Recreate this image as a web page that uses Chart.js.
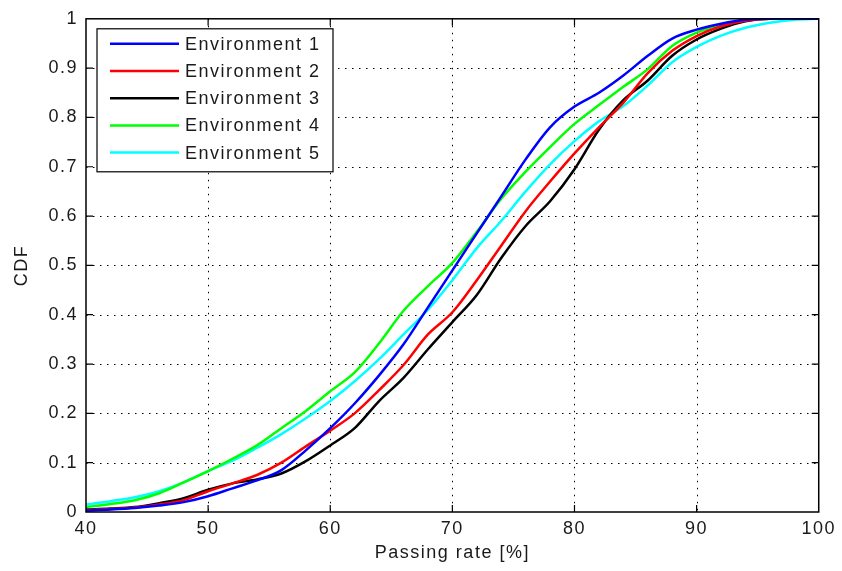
<!DOCTYPE html>
<html>
<head>
<meta charset="utf-8">
<script src="https://cdn.jsdelivr.net/npm/chart.js@4.4.1/dist/chart.umd.min.js"></script>
<style>
  html, body { margin: 0; padding: 0; background: #fff; }
  #wrap { width: 842px; height: 571px; }
</style>
</head>
<body>
<div id="wrap"><canvas id="cdfChart"></canvas></div>
<script>
// ============ DATA ============
const PASSING_RATE = [40, 42, 44, 46, 48, 50, 52, 54, 56, 58, 60, 62, 64, 66, 68, 70,
  72, 74, 76, 78, 80, 82, 84, 86, 88, 90, 92, 94, 96, 98, 100];

const ENV1 = [0.003, 0.005, 0.008, 0.013, 0.02, 0.032, 0.048, 0.064, 0.085, 0.125, 0.17, 0.22, 0.277, 0.34, 0.415, 0.49,
  0.565, 0.64, 0.715, 0.78, 0.822, 0.85, 0.885, 0.925, 0.96, 0.978, 0.99, 0.998, 1, 1, 1];
const ENV2 = [0.004, 0.006, 0.009, 0.015, 0.024, 0.042, 0.058, 0.075, 0.1, 0.133, 0.165, 0.2, 0.247, 0.298, 0.36, 0.405,
  0.47, 0.54, 0.61, 0.67, 0.727, 0.78, 0.83, 0.89, 0.935, 0.965, 0.985, 0.996, 1, 1, 1];
const ENV3 = [0.005, 0.007, 0.01, 0.018, 0.028, 0.045, 0.058, 0.066, 0.078, 0.103, 0.135, 0.17, 0.225, 0.272, 0.33, 0.385,
  0.44, 0.515, 0.58, 0.63, 0.695, 0.775, 0.835, 0.875, 0.925, 0.958, 0.98, 0.995, 1, 1, 1];
const ENV4 = [0.01, 0.016, 0.024, 0.038, 0.06, 0.083, 0.108, 0.135, 0.17, 0.205, 0.245, 0.283, 0.342, 0.408, 0.458, 0.505,
  0.568, 0.635, 0.69, 0.74, 0.787, 0.825, 0.862, 0.898, 0.945, 0.972, 0.988, 0.997, 1, 1, 1];
const ENV5 = [0.015, 0.022, 0.03, 0.042, 0.06, 0.083, 0.104, 0.13, 0.158, 0.19, 0.225, 0.265, 0.31, 0.36, 0.41, 0.47,
  0.535, 0.59, 0.65, 0.705, 0.752, 0.792, 0.823, 0.865, 0.912, 0.943, 0.966, 0.982, 0.992, 0.998, 1];

const SERIES = [ENV1, ENV2, ENV3, ENV4, ENV5];
const SERIES_LABELS = ['Environment 1', 'Environment 2', 'Environment 3', 'Environment 4', 'Environment 5'];
const SERIES_COLORS = ['#0000ff', '#ff0000', '#000000', '#00ff00', '#00ffff'];

const X_TICKS = [40, 50, 60, 70, 80, 90, 100];
const Y_TICKS = [0, 0.1, 0.2, 0.3, 0.4, 0.5, 0.6, 0.7, 0.8, 0.9, 1];

const FONT = "'Liberation Sans', Arial, Helvetica, sans-serif";

// ============ PLUGINS ============
// matlab style text is a bit stretched
const spacing = {
  id: 'spacing',
  beforeUpdate(chart) { chart.ctx.letterSpacing = '1.5px'; },
  beforeDraw(chart) { chart.ctx.letterSpacing = '1.5px'; }
};

// dotted grid under the lines
const dottedGrid = {
  id: 'dottedGrid',
  beforeDatasetsDraw(chart) {
    const { ctx, chartArea: a, scales } = chart;
    ctx.save();
    ctx.strokeStyle = '#000';
    ctx.lineWidth = 1;
    ctx.setLineDash([1.5, 5.5]);
    X_TICKS.slice(1, -1).forEach(function (v) {
      const x = Math.round(scales.x.getPixelForValue(v)) + 0.5;
      ctx.beginPath(); ctx.moveTo(x, a.top); ctx.lineTo(x, a.bottom); ctx.stroke();
    });
    Y_TICKS.slice(1, -1).forEach(function (v) {
      const y = Math.round(scales.y.getPixelForValue(v)) + 0.5;
      ctx.beginPath(); ctx.moveTo(a.left, y); ctx.lineTo(a.right, y); ctx.stroke();
    });
    ctx.restore();
  }
};

// box, inward ticks on all four sides, legend box
const frameAndLegend = {
  id: 'frameAndLegend',
  afterDatasetsDraw(chart) {
    const { ctx, chartArea: a, scales } = chart;
    const TL = 7;
    ctx.save();
    ctx.strokeStyle = '#000';
    ctx.lineWidth = 1.5;
    ctx.strokeRect(a.left, a.top, a.right - a.left, a.bottom - a.top);
    ctx.lineWidth = 1.2;
    ctx.beginPath();
    X_TICKS.slice(1, -1).forEach(function (v) {
      const x = scales.x.getPixelForValue(v);
      ctx.moveTo(x, a.bottom); ctx.lineTo(x, a.bottom - TL);
      ctx.moveTo(x, a.top); ctx.lineTo(x, a.top + TL);
    });
    Y_TICKS.slice(1, -1).forEach(function (v) {
      const y = scales.y.getPixelForValue(v);
      ctx.moveTo(a.left, y); ctx.lineTo(a.left + TL, y);
      ctx.moveTo(a.right, y); ctx.lineTo(a.right - TL, y);
    });
    ctx.stroke();

    // legend
    const lx = a.left + 11, ly = a.top + 10, lw = 236, lh = 143;
    ctx.fillStyle = '#fff';
    ctx.fillRect(lx, ly, lw, lh);
    ctx.lineWidth = 1.2;
    ctx.strokeStyle = '#000';
    ctx.strokeRect(lx, ly, lw, lh);
    ctx.font = '18px ' + FONT;
    ctx.letterSpacing = '1.5px';
    ctx.textBaseline = 'middle';
    ctx.textAlign = 'left';
    chart.data.datasets.forEach(function (ds, i) {
      const y = ly + 15 + i * 27.2;
      ctx.strokeStyle = ds.borderColor;
      ctx.lineWidth = 2.5;
      ctx.beginPath(); ctx.moveTo(lx + 13, y); ctx.lineTo(lx + 82, y); ctx.stroke();
      ctx.fillStyle = '#1a1a1a';
      ctx.fillText(ds.label, lx + 88, y + 1);
    });
    ctx.restore();
  }
};

// ============ CHART ============
const datasets = SERIES.map(function (vals, i) {
  return {
    label: SERIES_LABELS[i],
    data: PASSING_RATE.map(function (x, j) { return { x: x, y: vals[j] }; }),
    borderColor: SERIES_COLORS[i],
    backgroundColor: SERIES_COLORS[i],
    borderWidth: 2.5,
    pointRadius: 0,
    cubicInterpolationMode: 'monotone',
    fill: false
  };
});

Chart.defaults.font.family = FONT;
Chart.defaults.font.size = 18;
Chart.defaults.color = '#1a1a1a';

new Chart(document.getElementById('cdfChart'), {
  type: 'line',
  data: { datasets: datasets },
  options: {
    responsive: true,
    maintainAspectRatio: false,
    animation: false,
    layout: { padding: { top: 14, right: 21, left: 0, bottom: 0 } },
    plugins: {
      legend: { display: false },
      tooltip: { enabled: false }
    },
    scales: {
      x: {
        type: 'linear',
        min: 40,
        max: 100,
        afterFit: function (s) { s.height = 59; },
        afterBuildTicks: function (s) { s.ticks = X_TICKS.map(function (v) { return { value: v }; }); },
        grid: { display: false, drawTicks: false },
        border: { display: false },
        ticks: { padding: 6, maxRotation: 0, autoSkip: false },
        title: { display: true, text: 'Passing rate [%]', padding: { top: 0, bottom: 7 } }
      },
      y: {
        min: 0,
        max: 1,
        afterFit: function (s) { s.width = 86; },
        afterBuildTicks: function (s) { s.ticks = Y_TICKS.map(function (v) { return { value: v }; }); },
        grid: { display: false, drawTicks: false },
        border: { display: false },
        ticks: {
          padding: 8,
          autoSkip: false,
          callback: function (v) { return String(Math.round(v * 10) / 10); }
        },
        title: { display: true, text: 'CDF', padding: { top: 11, bottom: 0 } }
      }
    }
  },
  plugins: [spacing, dottedGrid, frameAndLegend]
});
</script>
</body>
</html>
